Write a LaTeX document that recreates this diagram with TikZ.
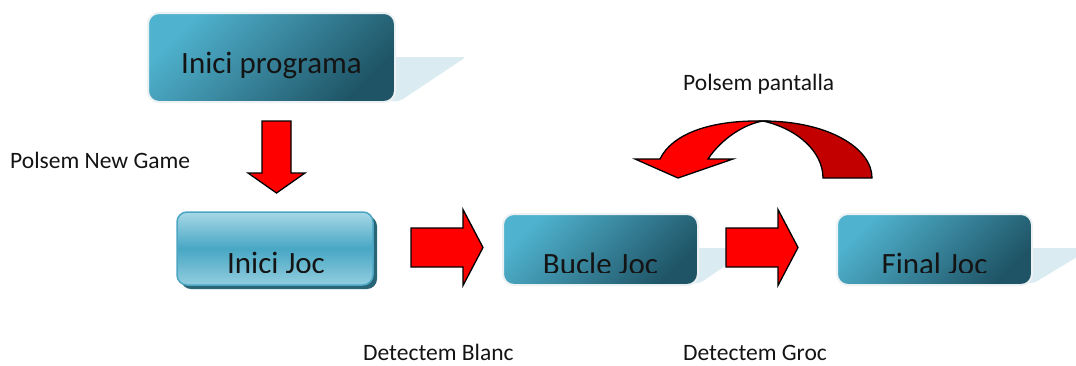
\documentclass[tikz,border=0pt]{standalone}
\usepackage{fontspec}
\setmainfont{Carlito}
\definecolor{tealA}{HTML}{4FB2CE}
\definecolor{tealB}{HTML}{1F5466}
\definecolor{boxrim}{HTML}{ECF1F3}
\definecolor{tailfill}{HTML}{DAECF2}
\definecolor{glossTop}{HTML}{A6D8E6}
\definecolor{glossMid}{HTML}{48A7C4}
\definecolor{glossBot}{HTML}{92CDDF}
\definecolor{glossRim}{HTML}{4AA6C2}
\definecolor{glossShadow}{HTML}{2A6576}
\definecolor{ink}{HTML}{141414}
\definecolor{arrowred}{HTML}{FF0000}
\definecolor{arrowdark}{HTML}{C20000}
\begin{document}
\begin{tikzpicture}[x=1pt,y=-1pt,
  tealbox/.style={rectangle, rounded corners=11pt, draw=boxrim, line width=2pt,
    top color=tealA, bottom color=tealB, shading angle=45, inner sep=0pt},
  glossbox/.style={rectangle, rounded corners=10pt, draw=glossRim, line width=1.5pt,
    top color=glossTop, bottom color=glossBot, middle color=glossMid, inner sep=0pt},
  tail/.style={fill=tailfill, rounded corners=3pt},
  bigtext/.style={anchor=base, inner sep=0pt, text=ink, font=\fontsize{31}{36}\selectfont},
  smalltext/.style={anchor=base west, inner sep=0pt, text=ink, font=\fontsize{23.5}{28}\selectfont},
  blockarrow/.style={fill=arrowred, draw=black, line width=1.3pt, line join=miter},
  rarrow/.pic={\path[blockarrow] (-36,-19.5) -- (16,-19.5) -- (16,-38) -- (36,0)
      -- (16,38) -- (16,19.5) -- (-36,19.5) -- cycle;},
  darrow/.pic={\path[blockarrow] (-14.5,-36) -- (14.5,-36) -- (14.5,16) -- (28.5,16)
      -- (0,36) -- (-28.5,16) -- (-14.5,16) -- cycle;}
]
\useasboundingbox (0,0) rectangle (1076,365);

% speech-bubble tails behind the boxes
\path[tail] (388,57) -- (466,57) -- (400,101) -- (388,101) -- cycle;
\path[tail] (690,248) -- (752,248) -- (700,283) -- (690,283) -- cycle;
\path[tail] (1025,248) -- (1092,248) -- (1034,283) -- (1025,283) -- cycle;

% boxes
\node[tealbox, minimum width=247pt, minimum height=89pt] (prog) at (271.5,57.5) {};
\node[bigtext] (progText) at (271.5,73) {Inici programa};

\fill[glossShadow, rounded corners=10pt] (181,216) rectangle (377,289);
\node[glossbox, minimum width=196pt, minimum height=73pt] (joc) at (275,248.5) {};
\node[tealbox, minimum width=195pt, minimum height=71pt] (bucle) at (600.5,249.5) {};
\node[tealbox, minimum width=195pt, minimum height=71pt] (final) at (934.5,249.5) {};

% box captions, cut off just above the baseline
\begin{scope}
  \clip (0,200) rectangle (1076,272);
  \node[bigtext] (jocText) at (276,273) {Inici Joc};
  \node[bigtext] (bucleText) at (600.5,274) {Bucle Joc};
  \node[bigtext] (finalText) at (934.5,274) {Final Joc};
\end{scope}

% straight block arrows
\pic (down) at (276.5,157) {darrow};
\pic (blanc) at (447,247.5) {rarrow};
\pic (groc) at (762,247.5) {rarrow};

% curved return arrow
\path[blockarrow, fill=arrowdark] (763,121) .. controls (828,121) and (872,148) .. (872,178)
  -- (823,178) .. controls (823,152) and (798,129) .. (763,121) -- cycle;
\path[blockarrow] (763,121) .. controls (710,120) and (672,134) .. (660,159)
  -- (635,159) -- (678,178) -- (733,159) -- (708,159)
  .. controls (722,138) and (745,124) .. (763,121) -- cycle;

% transition labels
\node[smalltext] (lNew) at (10,168) {Polsem New Game};
\node[smalltext] (lPant) at (683,90) {Polsem pantalla};
\node[smalltext] (lBlanc) at (363,360) {Detectem Blanc};
\node[smalltext] (lGroc) at (683,360) {Detectem Groc};
\end{tikzpicture}
\end{document}
